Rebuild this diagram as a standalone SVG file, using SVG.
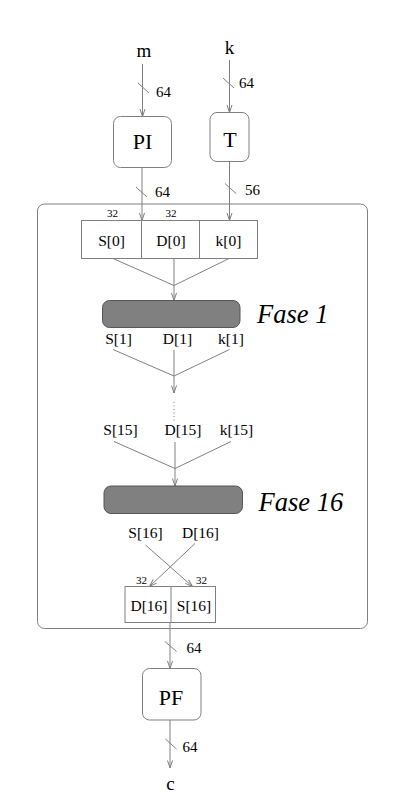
<svg xmlns="http://www.w3.org/2000/svg" width="405" height="811" viewBox="0 0 405 811">
<style>
text{font-family:"Liberation Serif","Times New Roman",serif;fill:#000}
.lbl{font-size:19px;text-anchor:middle}
.bus{font-size:15px}
.w{font-size:11px;text-anchor:middle}
.st{font-size:15.5px;text-anchor:middle}
.box{font-size:22px;text-anchor:middle}
.fase{font-size:26.5px;font-style:italic}
.ln{stroke:#808080;stroke-width:1;fill:none}
.arr{stroke:#808080;stroke-width:1;fill:none;marker-end:url(#ah)}
.nb{fill:#fff;stroke:#808080;stroke-width:1}
.gb{fill:#808080;stroke:#555;stroke-width:1}
</style>
<defs>
<marker id="ah" viewBox="0 0 8 6" refX="7.5" refY="3" markerWidth="8" markerHeight="6" markerUnits="userSpaceOnUse" orient="auto" overflow="visible">
<path d="M0,0.5 L7.5,3 L0,5.5" fill="none" stroke="#808080" stroke-width="1"/>
</marker>
</defs>
<rect width="405" height="811" fill="#fff"/>
<g id="frame"><rect class="nb" x="37.5" y="204" width="330" height="424.5" rx="7"/></g>
<g id="connectors">
<line class="arr" x1="142.5" y1="64" x2="142.5" y2="116.5"/>
<line class="ln" x1="138" y1="83" x2="149" y2="93"/>
<line class="arr" x1="229.5" y1="60" x2="229.5" y2="112.5"/>
<line class="ln" x1="223" y1="78" x2="234" y2="88"/>
<line class="arr" x1="229.5" y1="161.5" x2="229.5" y2="220.5"/>
<line class="ln" x1="225" y1="183.5" x2="236" y2="193.5"/>
<line class="arr" x1="142" y1="167.5" x2="142" y2="220.5"/>
<line class="ln" x1="136" y1="187" x2="147" y2="197"/>
<line class="ln" x1="113" y1="258.5" x2="174" y2="285.5"/>
<line class="ln" x1="229" y1="258.5" x2="174" y2="285.5"/>
<line class="arr" x1="174" y1="258.5" x2="174" y2="300.5"/>
<line class="ln" x1="113" y1="349.5" x2="174" y2="376"/>
<line class="ln" x1="229.5" y1="349.5" x2="174" y2="376"/>
<line class="arr" x1="174" y1="350" x2="174" y2="393"/>
<line class="ln" x1="174" y1="402" x2="174" y2="422" stroke-dasharray="1,2.5"/>
<line class="ln" x1="114" y1="441.5" x2="175" y2="468.5"/>
<line class="ln" x1="231" y1="441.5" x2="175" y2="468.5"/>
<line class="arr" x1="175" y1="442" x2="175" y2="486"/>
<line class="arr" x1="145.5" y1="545" x2="192.5" y2="586.5"/>
<line class="arr" x1="195" y1="543.5" x2="149.5" y2="586.5"/>
<line class="arr" x1="170" y1="622.5" x2="170" y2="668.5"/>
<line class="ln" x1="165" y1="641.5" x2="176.5" y2="651.5"/>
<line class="arr" x1="170" y1="720" x2="170" y2="768"/>
<line class="ln" x1="165.5" y1="739" x2="176.5" y2="749"/>
</g>
<g id="bus-labels">
<text class="bus" x="156" y="97">64</text>
<text class="bus" x="239" y="88">64</text>
<text class="bus" x="245" y="195">56</text>
<text class="bus" x="155" y="197">64</text>
<text class="bus" x="186.5" y="653">64</text>
<text class="bus" x="182.5" y="751.5">64</text>
</g>
<g id="m"><text class="lbl" x="144" y="57">m</text></g>
<g id="k"><text class="lbl" x="229.5" y="54">k</text></g>
<g id="PI"><rect class="nb" x="113.5" y="116.5" width="58" height="51" rx="7"/><text class="box" x="142.5" y="149">PI</text></g>
<g id="T"><rect class="nb" x="210" y="112.5" width="39" height="49" rx="7"/><text class="box" x="230" y="147">T</text></g>
<g id="state0">
<rect class="nb" x="81.5" y="220.5" width="176" height="38"/>
<line class="ln" x1="141.5" y1="220.5" x2="141.5" y2="258.5"/>
<line class="ln" x1="199.5" y1="220.5" x2="199.5" y2="258.5"/>
<text class="w" x="112.5" y="217">32</text>
<text class="w" x="171" y="217">32</text>
<text class="st" x="111.5" y="246">S[0]</text>
<text class="st" x="171" y="246">D[0]</text>
<text class="st" x="228.5" y="246">k[0]</text>
</g>
<g id="fase1">
<rect class="gb" x="102.5" y="300.5" width="137.5" height="27" rx="7"/>
<text class="fase" x="257" y="323">Fase 1</text>
</g>
<g id="state1">
<text class="st" x="118.5" y="344">S[1]</text>
<text class="st" x="177.5" y="344">D[1]</text>
<text class="st" x="231" y="344">k[1]</text>
</g>
<g id="state15">
<text class="st" x="120.5" y="435">S[15]</text>
<text class="st" x="183" y="435">D[15]</text>
<text class="st" x="236.5" y="435">k[15]</text>
</g>
<g id="fase16">
<rect class="gb" x="104" y="486" width="138.5" height="27.5" rx="7"/>
<text class="fase" x="258.5" y="510.5">Fase 16</text>
</g>
<g id="state16">
<text class="st" x="145.5" y="538">S[16]</text>
<text class="st" x="200.5" y="538">D[16]</text>
</g>
<g id="swap">
<rect class="nb" x="125" y="586.5" width="90.5" height="36"/>
<line class="ln" x1="171" y1="586.5" x2="171" y2="622.5"/>
<text class="w" x="141.5" y="584">32</text>
<text class="w" x="201.5" y="584">32</text>
<text class="st" x="149" y="610.5">D[16]</text>
<text class="st" x="194" y="610.5">S[16]</text>
</g>
<g id="PF"><rect class="nb" x="142.5" y="668.5" width="58.5" height="51.5" rx="7"/><text class="box" x="171" y="705">PF</text></g>
<g id="c"><text class="lbl" x="170.5" y="790">c</text></g>
</svg>
